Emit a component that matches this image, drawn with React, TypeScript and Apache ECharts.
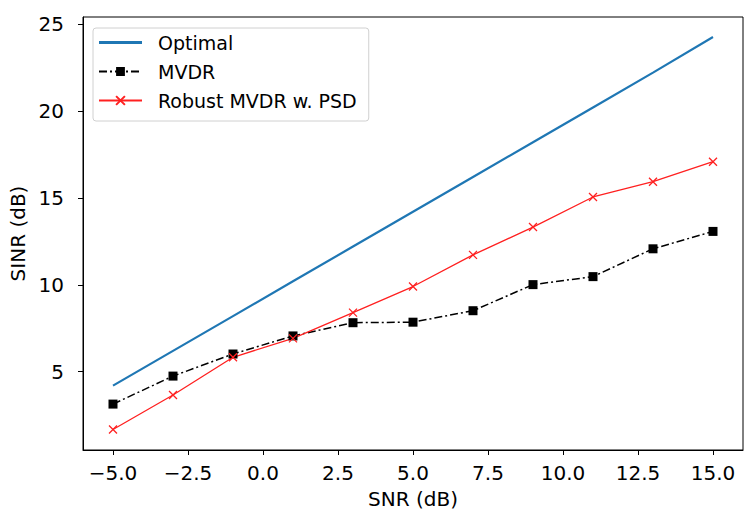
import React, { useEffect, useRef } from "react";
import * as echarts from "echarts";

const snr = [-5, -3, -1, 1, 3, 5, 7, 9, 11, 13, 15];
const optimal = [4.2, 6.2, 8.2, 10.2, 12.2, 14.2, 16.2, 18.2, 20.2, 22.2, 24.25];
const mvdr = [3.14, 4.75, 6.02, 7.06, 7.82, 7.85, 8.51, 10.01, 10.47, 12.07, 13.07];
const robust = [1.68, 3.66, 5.83, 6.92, 8.4, 9.9, 11.72, 13.32, 15.05, 15.93, 17.08];
const xTicks = [-5, -2.5, 0, 2.5, 5, 7.5, 10, 12.5, 15];
const yTicks = [5, 10, 15, 20, 25];

const FONT = "'DejaVu Sans'";
const FS = 20;

export default function App() {
  const ref = useRef<HTMLDivElement>(null);
  useEffect(() => {
    if (!ref.current) return;
    const chart = echarts.init(ref.current, undefined, { renderer: "svg" });
    const pair = (ys: number[]) => snr.map((x, i) => [x, ys[i]]);
    chart.setOption({
      animation: false,
      backgroundColor: "#fff",
      textStyle: { fontFamily: FONT },
      grid: {
        left: 83,
        top: 17,
        right: 1,
        bottom: 60,
        containLabel: false,
        outerBoundsMode: "none",
        show: true,
        borderColor: "#000",
        borderWidth: 1,
        backgroundColor: "transparent",
      },
      legend: {
        orient: "vertical",
        left: 93,
        top: 28,
        padding: [5, 12, 11, 5],
        itemWidth: 43,
        itemHeight: 11,
        itemGap: 10,
        borderColor: "#d0d0d0",
        borderWidth: 1,
        borderRadius: 3,
        backgroundColor: "rgba(255,255,255,0.8)",
        textStyle: { fontFamily: FONT, fontSize: 19, color: "#000", padding: [0, 0, 0, 11] },
        data: [
          { name: "Optimal", icon: "path://M0,0H40V3H0Z" },
          { name: "MVDR" },
          { name: "Robust MVDR w. PSD" },
        ],
      },
      xAxis: {
        type: "value",
        min: -6,
        max: 16,
        name: "SNR (dB)",
        nameLocation: "middle",
        nameGap: 39,
        nameTextStyle: { fontFamily: FONT, fontSize: FS, color: "#000" },
        axisLine: { show: true, onZero: false, lineStyle: { color: "#000", width: 1 } },
        axisTick: { show: true, length: 5, customValues: xTicks, lineStyle: { color: "#000" } },
        axisLabel: {
          customValues: xTicks,
          margin: 13,
          fontFamily: FONT,
          fontSize: FS,
          color: "#000",
          formatter: (v: number) => (v < 0 ? "\u2212" : "") + Math.abs(v).toFixed(1),
        },
        splitLine: { show: false },
      },
      yAxis: {
        type: "value",
        min: 0.5,
        max: 25.4,
        name: "SINR (dB)",
        nameLocation: "middle",
        nameGap: 45.5,
        nameTextStyle: { fontFamily: FONT, fontSize: FS, color: "#000" },
        axisLine: { show: true, onZero: false, lineStyle: { color: "#000", width: 1 } },
        axisTick: { show: true, length: 5, customValues: yTicks, lineStyle: { color: "#000" } },
        axisLabel: {
          customValues: yTicks,
          margin: 19,
          fontFamily: FONT,
          fontSize: FS,
          color: "#000",
          formatter: (v: number) => String(v),
        },
        splitLine: { show: false },
      },
      series: [
        {
          name: "Optimal",
          type: "line",
          data: pair(optimal),
          symbol: "none",
          lineStyle: { color: "#1f77b4", width: 2.2 },
          itemStyle: { color: "#1f77b4" },
        },
        {
          name: "MVDR",
          type: "line",
          data: pair(mvdr),
          symbol: "rect",
          symbolSize: 9,
          lineStyle: { color: "#000", width: 1.5, type: [8, 3, 2, 3] },
          itemStyle: { color: "#000" },
        },
        {
          name: "Robust MVDR w. PSD",
          type: "line",
          data: pair(robust),
          symbol: "path://M0,0L10,10M10,0L0,10",
          symbolSize: 8,
          lineStyle: { color: "#ff2020", width: 1.3 },
          itemStyle: { color: "#ff2020", borderColor: "#ff2020", borderWidth: 1.3 },
        },
      ],
    });
    return () => chart.dispose();
  }, []);
  return (
    <div
      ref={ref}
      style={{ position: "absolute", left: 0, top: 0, width: 744, height: 510 }}
    />
  );
}
